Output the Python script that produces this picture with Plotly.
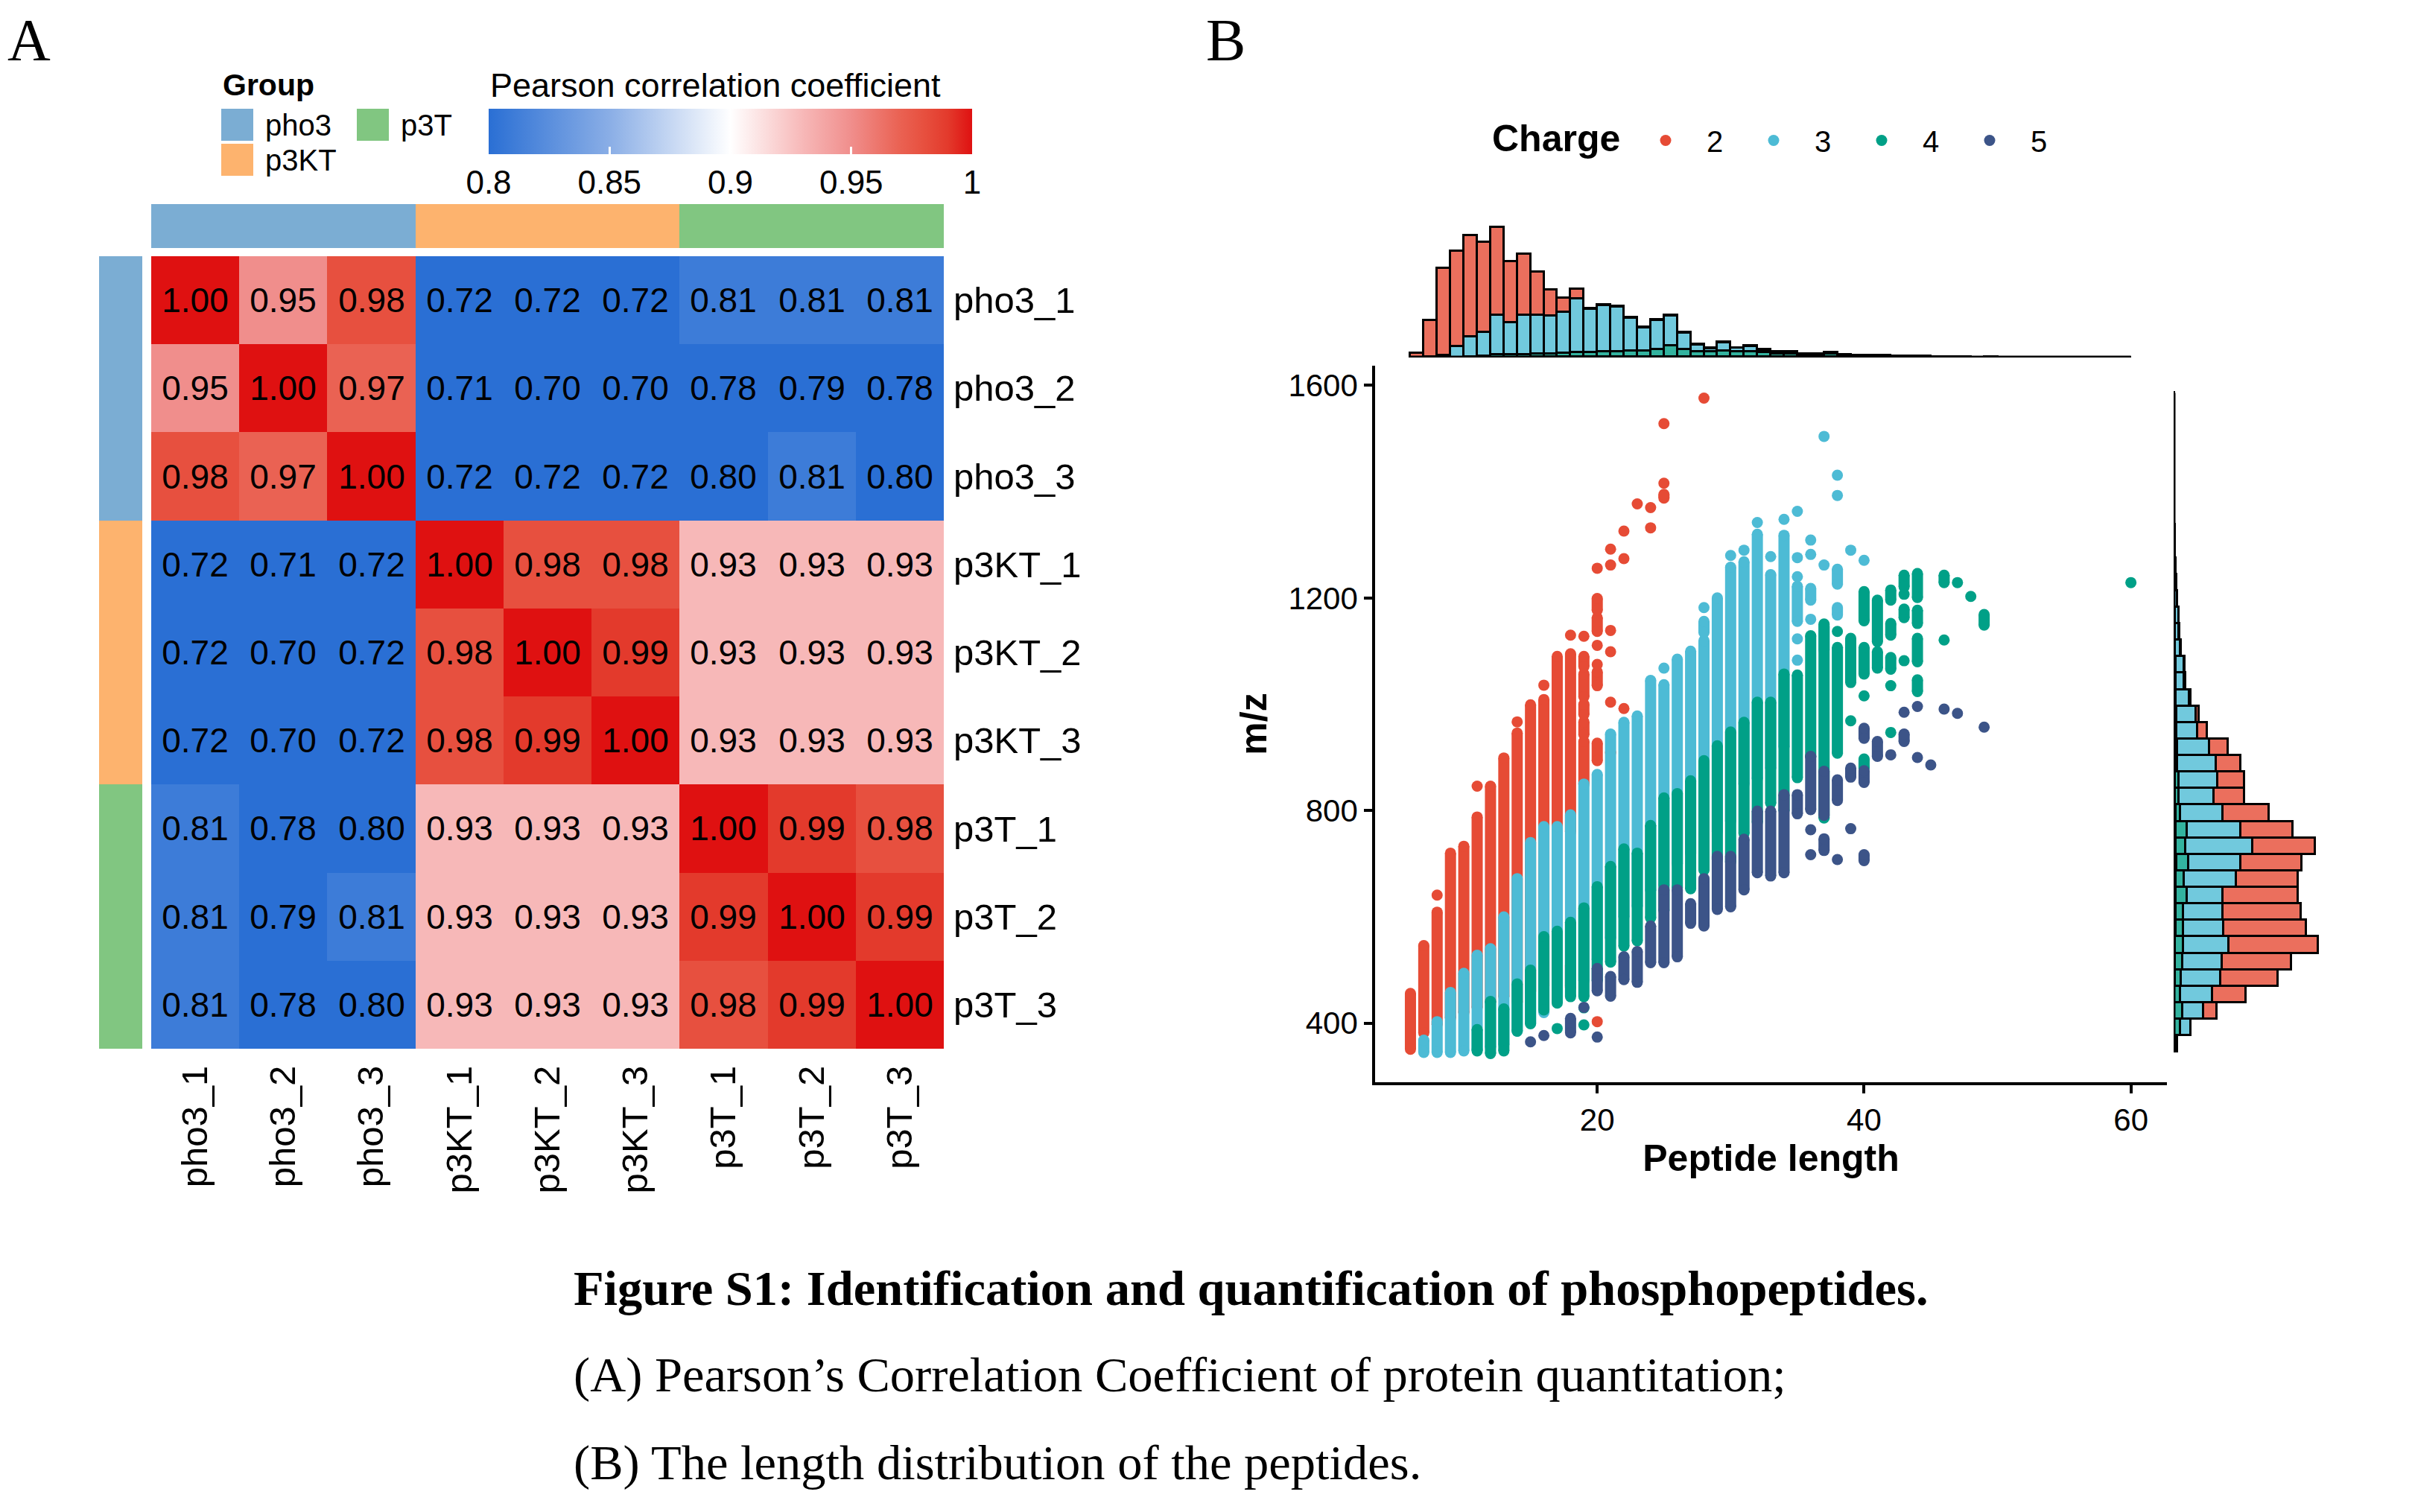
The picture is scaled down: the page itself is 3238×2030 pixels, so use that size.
import plotly.graph_objects as go

W, H = 3238, 2030
OX, OY = 6, 8   # small global nudge of the layout
SANS = 'Liberation Sans, Arial, Helvetica, sans-serif'
SERIF = 'Liberation Serif, Times New Roman, serif'


def px(x):
    return (x - OX) / W


def py(y):
    return 1 - (y - OY) / H


# ---------------- Panel A: Pearson correlation heatmap ----------------
samples = ['pho3_1', 'pho3_2', 'pho3_3', 'p3KT_1', 'p3KT_2', 'p3KT_3', 'p3T_1', 'p3T_2', 'p3T_3']
groups = ['pho3', 'pho3', 'pho3', 'p3KT', 'p3KT', 'p3KT', 'p3T', 'p3T', 'p3T']
group_names = ['pho3', 'p3KT', 'p3T']
group_colors = ['#7BADD3', '#FDB36E', '#81C681']
corr = [
    [1.00, 0.95, 0.98, 0.72, 0.72, 0.72, 0.81, 0.81, 0.81],
    [0.95, 1.00, 0.97, 0.71, 0.70, 0.70, 0.78, 0.79, 0.78],
    [0.98, 0.97, 1.00, 0.72, 0.72, 0.72, 0.80, 0.81, 0.80],
    [0.72, 0.71, 0.72, 1.00, 0.98, 0.98, 0.93, 0.93, 0.93],
    [0.72, 0.70, 0.72, 0.98, 1.00, 0.99, 0.93, 0.93, 0.93],
    [0.72, 0.70, 0.72, 0.98, 0.99, 1.00, 0.93, 0.93, 0.93],
    [0.81, 0.78, 0.80, 0.93, 0.93, 0.93, 1.00, 0.99, 0.98],
    [0.81, 0.79, 0.81, 0.93, 0.93, 0.93, 0.99, 1.00, 0.99],
    [0.81, 0.78, 0.80, 0.93, 0.93, 0.93, 0.98, 0.99, 1.00],
]
cbar_ticks = [0.8, 0.85, 0.9, 0.95, 1.0]
cbar_labels = ['0.8', '0.85', '0.9', '0.95', '1']

# ---------------- Panel B: peptide length vs m/z ----------------
charges = ['2', '3', '4', '5']
charge_colors = ['#E64B35', '#4DBBD5', '#00A087', '#3C5488']
hist_colors = ['#EB6F5D', '#71C9DD', '#33B39F', '#6376A0']

# (peptide length, lowest m/z, highest m/z) of each run of points
seg_charge2 = [
    (6, 351, 456), (7, 382, 546), (8, 398, 609), (8, 641, 641),
    (9, 410, 720), (10, 420, 733), (11, 430, 788), (11, 846, 846),
    (12, 440, 846), (13, 450, 899), (14, 440, 946), (14, 967, 967),
    (15, 460, 999), (16, 470, 1009), (16, 1036, 1036), (17, 490, 1090),
    (18, 467, 509), (18, 760, 1095), (18, 1130, 1130),
    (19, 850, 930), (19, 943, 967), (19, 981, 1000), (19, 1014, 1057), (19, 1071, 1090), (19, 1128, 1128),
    (20, 403, 403), (20, 894, 927), (20, 1035, 1061), (20, 1075, 1075), (20, 1111, 1111),
    (20, 1137, 1163), (20, 1177, 1199), (20, 1256, 1256),
    (21, 909, 909), (21, 1004, 1004), (21, 1099, 1099), (21, 1139, 1139), (21, 1262, 1262), (21, 1292, 1292),
    (22, 992, 992), (22, 1274, 1274), (22, 1326, 1326),
    (23, 1377, 1377), (24, 1332, 1332), (24, 1370, 1370),
    (25, 1388, 1395), (25, 1416, 1416), (25, 1528, 1528), (28, 1576, 1576),
]
seg_charge3 = [
    (7, 345, 368), (8, 345, 403), (9, 345, 458), (10, 348, 494), (11, 350, 528),
    (12, 355, 540), (13, 360, 600), (14, 385, 672), (15, 400, 740), (16, 420, 770),
    (17, 460, 770), (18, 470, 792), (19, 480, 850), (20, 520, 868), (21, 560, 944),
    (22, 600, 966), (23, 620, 978), (24, 650, 1045), (25, 660, 1037), (25, 1068, 1068),
    (26, 700, 1085), (27, 720, 1100), (28, 740, 1120), (28, 1135, 1156), (28, 1182, 1182),
    (29, 760, 1200), (30, 780, 1258), (30, 1280, 1280), (31, 850, 1268), (31, 1290, 1290),
    (32, 860, 1320), (32, 1342, 1342), (33, 880, 1244), (33, 1278, 1278),
    (34, 920, 1318), (34, 1348, 1348),
    (35, 1083, 1083), (35, 1123, 1123), (35, 1156, 1222), (35, 1240, 1240), (35, 1276, 1276), (35, 1363, 1363),
    (36, 1160, 1160), (36, 1196, 1218), (36, 1282, 1282), (36, 1309, 1309),
    (37, 1102, 1146), (37, 1262, 1262), (37, 1504, 1504),
    (38, 1168, 1182), (38, 1226, 1254), (38, 1393, 1393), (38, 1431, 1431),
    (39, 1290, 1290), (40, 1271, 1271),
]
seg_charge4 = [
    (11, 348, 388), (12, 343, 441), (13, 348, 427), (14, 385, 474), (15, 399, 500),
    (16, 425, 563), (17, 390, 390), (17, 438, 573), (18, 450, 590),
    (19, 397, 397), (19, 429, 429), (19, 450, 617), (20, 480, 657), (21, 515, 695),
    (22, 545, 728), (23, 555, 720), (24, 598, 772), (25, 612, 824), (26, 655, 832),
    (27, 653, 856), (28, 688, 894), (29, 708, 922), (30, 703, 948), (31, 757, 966),
    (32, 778, 1004), (33, 814, 1004), (34, 800, 1057), (35, 862, 1055),
    (36, 902, 1129), (37, 786, 1151), (38, 908, 1107), (38, 1137, 1137),
    (39, 969, 969), (39, 1041, 1124),
    (40, 880, 897), (40, 1016, 1016), (40, 1057, 1107), (40, 1157, 1212),
    (41, 1068, 1099), (41, 1118, 1196),
    (42, 947, 947), (42, 1035, 1035), (42, 1066, 1088), (42, 1130, 1152), (42, 1196, 1215),
    (43, 1082, 1082), (43, 1163, 1179), (43, 1207, 1207), (43, 1221, 1243),
    (44, 1024, 1046), (44, 1080, 1124), (44, 1152, 1177), (44, 1201, 1246),
    (46, 1121, 1121), (46, 1229, 1243), (47, 1229, 1229), (48, 1203, 1203),
    (49, 1149, 1169), (60, 1229, 1229),
]
seg_charge5 = [
    (15, 365, 365), (16, 377, 377), (18, 382, 409), (19, 430, 430),
    (20, 374, 374), (20, 461, 503), (21, 451, 488), (22, 482, 525), (23, 477, 535),
    (24, 514, 583), (25, 514, 651), (26, 525, 651), (27, 588, 625), (28, 583, 672),
    (29, 614, 714), (30, 619, 714), (31, 651, 746), (32, 683, 799), (33, 677, 799),
    (34, 683, 830), (35, 794, 830),
    (36, 717, 717), (36, 764, 764), (36, 802, 902),
    (37, 725, 747), (37, 791, 874), (38, 708, 708), (38, 819, 858),
    (39, 766, 766), (39, 863, 880), (40, 706, 717), (40, 853, 875), (40, 936, 955),
    (41, 902, 930), (42, 905, 905), (43, 930, 944), (43, 985, 985),
    (44, 900, 900), (44, 996, 996), (45, 886, 886), (46, 991, 991), (47, 983, 983),
    (49, 957, 957),
]

# marginal histogram of peptide length (bins [n, n+1), counts per charge)
len_bins = list(range(6, 60))
len_count2 = [18, 148, 353, 387, 410, 365, 355, 245, 247, 175, 107, 57, 40,
              3, 3, 3, 3, 3, 3, 3, 3, 3, 4, 2, 2, 2, 2, 1, 1] + [0] * 25
len_count3 = [0, 2, 10, 45, 83, 98, 161, 130, 160, 158, 152, 166, 218, 174, 187, 180,
              132, 92, 118, 121, 68, 25, 13, 35, 15, 21, 10, 6, 6, 4, 4, 6, 3, 2, 2,
              1, 1] + [0] * 17
len_count4 = [0, 0, 0, 0, 2, 5, 12, 12, 12, 13, 14, 15, 17, 18, 20, 22, 25, 25, 28,
              45, 28, 22, 20, 23, 20, 22, 18, 14, 14, 10, 10, 12, 8, 6, 6, 6, 5, 5, 5,
              2, 3, 1, 1, 2] + [0] * 9 + [1]
len_count5 = [0] * 7 + [1, 1, 2, 2, 2, 3, 3, 3, 3, 3, 3, 4, 4, 4, 3, 3, 3, 3, 3, 3,
                        2, 2, 2, 2, 2, 2, 2, 2, 1, 1, 1, 1, 1, 1, 1, 0, 1] + [0] * 10

# marginal histogram of m/z (bin centres, counts per charge)
mz_bins = [361.5, 392.5, 423.5, 454.5, 485.5, 516.5, 547.5, 578.5, 609.5, 640.5,
           671.5, 702.5, 733.5, 764.5, 795.5, 826.5, 857.5, 888.5, 919.5, 950.5,
           981.5, 1012.5, 1043.5, 1074.5, 1105.5, 1136.5, 1167.5, 1198.5, 1229.5, 1260.5,
           1291.5, 1322.5, 1353.5, 1384.5, 1415.5, 1446.5, 1477.5, 1508.5, 1539.5, 1570.5]
mz_count2 = [0, 0, 21, 50, 86, 104, 134, 123, 116, 112, 93, 91, 93, 78, 70, 46, 40, 37,
             28, 14, 5, 3, 2, 1, 1, 1, 0, 0, 0, 0, 0, 0, 0, 1, 1, 0, 0, 0, 1, 1]
mz_count3 = [4, 16, 31, 48, 59, 59, 67, 60, 59, 54, 77, 78, 100, 80, 63, 52, 58, 57,
             47, 32, 29, 20, 13, 13, 8, 6, 6, 5, 3, 3, 2, 2, 1, 0, 0, 0, 0, 1, 0, 0]
mz_count4 = [2, 9, 12, 9, 9, 11, 13, 12, 12, 17, 13, 18, 15, 17, 7, 6, 6, 4, 4, 3,
             3, 3, 3, 3, 2, 2, 2, 1, 2, 0, 0, 0, 0, 0, 0, 0, 0, 0, 0, 0]
mz_count5 = [0, 1, 1, 1, 2, 2, 2, 3, 3, 3, 3, 4, 3, 3, 3, 2, 2, 2, 2, 1,
             1, 0, 0, 0, 0, 0, 0, 0, 0, 0, 0, 0, 0, 0, 0, 0, 0, 0, 0, 0]

fig = go.Figure()

# --- heatmap body
corr_scale = [
    [0.0, '#2A6FD4'], [0.25, '#8AAEE6'], [0.5, '#FFFFFF'], [0.65, '#F7B8B8'],
    [0.75, '#F08E8C'], [0.85, '#EA6253'], [0.9, '#E7503F'], [0.95, '#E33A2C'],
    [1.0, '#DF1111'],
]
fig.add_trace(go.Heatmap(
    z=corr, x=samples, y=samples, xaxis='x', yaxis='y',
    zmin=0.8, zmax=1.0, colorscale=corr_scale,
    texttemplate='%{z:.2f}', textfont=dict(family=SANS, size=46, color='black'),
    hoverinfo='skip',
    colorbar=dict(
        orientation='h', thickness=61, thicknessmode='pixels',
        len=649, lenmode='pixels', x=px(978.5), xanchor='center',
        y=py(146), yanchor='top', xpad=0, ypad=0, outlinewidth=0,
        tickvals=cbar_ticks, ticktext=cbar_labels, ticks='inside',
        ticklen=10, tickwidth=3, tickcolor='white',
        tickfont=dict(family=SANS, size=44, color='black'),
    ),
))

# --- group annotation bars
group_idx = [group_names.index(g) for g in groups]
group_scale = [
    [0.0, group_colors[0]], [1 / 3, group_colors[0]],
    [1 / 3, group_colors[1]], [2 / 3, group_colors[1]],
    [2 / 3, group_colors[2]], [1.0, group_colors[2]],
]
fig.add_trace(go.Heatmap(z=[group_idx], x=samples, y=['Group'], xaxis='x', yaxis='y2',
                         zmin=0, zmax=2, colorscale=group_scale, showscale=False,
                         hoverinfo='skip'))
fig.add_trace(go.Heatmap(z=[[g] for g in group_idx], x=['Group'], y=samples,
                         xaxis='x2', yaxis='y', zmin=0, zmax=2, colorscale=group_scale,
                         showscale=False, hoverinfo='skip'))

# --- scatter: runs of points drawn as thick strokes, capped with round markers
segments = [seg_charge2, seg_charge3, seg_charge4, seg_charge5]
for name, col, segs in zip(charges, charge_colors, segments):
    lx, ly, mx, my = [], [], [], []
    for length, lo, hi in segs:
        if hi > lo:
            lx += [length, length, None]
            ly += [lo, hi, None]
            mx += [length, length]
            my += [lo, hi]
        else:
            mx.append(length)
            my.append(lo)
    fig.add_trace(go.Scatter(x=lx, y=ly, mode='lines', xaxis='x3', yaxis='y3',
                             line=dict(color=col, width=15), showlegend=False,
                             hoverinfo='skip'))
    fig.add_trace(go.Scatter(x=mx, y=my, mode='markers', xaxis='x3', yaxis='y3',
                             marker=dict(color=col, size=15, line=dict(width=0)),
                             name=name, legendgroup=name, hoverinfo='skip'))

# --- marginal histograms (stacked, charge 5 at the base)
len_counts = [len_count2, len_count3, len_count4, len_count5]
mz_counts = [mz_count2, mz_count3, mz_count4, mz_count5]
mz_width = mz_bins[1] - mz_bins[0]
for i in [3, 2, 1, 0]:
    fig.add_trace(go.Bar(x=[b + 0.5 for b in len_bins], y=len_counts[i], width=1,
                         xaxis='x4', yaxis='y4', showlegend=False, hoverinfo='skip',
                         marker=dict(color=hist_colors[i], line=dict(color='black', width=3))))
    fig.add_trace(go.Bar(y=mz_bins, x=mz_counts[i], width=mz_width, orientation='h',
                         xaxis='x5', yaxis='y5', showlegend=False, hoverinfo='skip',
                         marker=dict(color=hist_colors[i], line=dict(color='black', width=3))))

# base lines of the histograms (zero-count bins)
fig.add_trace(go.Scatter(x=[len_bins[0], len_bins[-1] + 1], y=[0, 0], mode='lines',
                         xaxis='x4', yaxis='y4', line=dict(color='black', width=5),
                         showlegend=False, hoverinfo='skip', cliponaxis=False))
fig.add_trace(go.Scatter(x=[0, 0], y=[mz_bins[0] - mz_width / 2, mz_bins[-1] + mz_width / 2],
                         mode='lines', xaxis='x5', yaxis='y5',
                         line=dict(color='black', width=5),
                         showlegend=False, hoverinfo='skip', cliponaxis=False))

top_total = max(a + b + c + d for a, b, c, d in zip(*len_counts))
right_total = max(a + b + c + d for a, b, c, d in zip(*mz_counts))

name_font = dict(family=SANS, size=49, color='black')
tick_font = dict(family=SANS, size=42, color='black')
x_range = [3.35, 62.7]
y_range = [289, 1637]

fig.update_layout(
    width=W, height=H, margin=dict(l=0, r=0, t=0, b=0),
    paper_bgcolor='white', plot_bgcolor='white',
    barmode='stack', bargap=0,
    font=dict(family=SANS, color='black'),
    xaxis=dict(domain=[px(201), px(1265)], anchor='y', tickangle=-90, tickfont=name_font,
               ticks='', ticklabelstandoff=12, showgrid=False, zeroline=False),
    yaxis=dict(domain=[py(1408), py(344)], anchor='x', autorange='reversed', side='right',
               tickfont=name_font, ticks='', ticklabelstandoff=12, showgrid=False,
               zeroline=False),
    yaxis2=dict(domain=[py(333), py(274)], anchor='x', visible=False),
    xaxis2=dict(domain=[px(131), px(189)], anchor='y', visible=False),
    xaxis3=dict(domain=[px(1844), px(2907)], anchor='y3', range=x_range,
                tickvals=[20, 40, 60], ticks='outside', ticklen=11, tickwidth=3.5,
                tickcolor='black', showline=True, linewidth=3.5, linecolor='black',
                showgrid=False, zeroline=False, tickfont=tick_font,
                title=dict(text='<b>Peptide length</b>', standoff=10,
                           font=dict(family=SANS, size=50, color='black'))),
    yaxis3=dict(domain=[py(1453), py(491)], anchor='x3', range=y_range,
                tickvals=[400, 800, 1200, 1600], ticks='outside', ticklen=11,
                tickwidth=3.5, tickcolor='black', showline=True, linewidth=3.5,
                linecolor='black', showgrid=False, zeroline=False, tickfont=tick_font,
                title=dict(text='<b>m/z</b>', standoff=14,
                           font=dict(family=SANS, size=50, color='black'))),
    xaxis4=dict(domain=[px(1844), px(2907)], anchor='y4', range=x_range, visible=False),
    yaxis4=dict(domain=[py(480), py(300)], anchor='x4', range=[0, top_total * 180 / 175],
                visible=False),
    xaxis5=dict(domain=[px(2916), px(3130)], anchor='y5',
                range=[0, right_total * 214 / 194], visible=False),
    yaxis5=dict(domain=[py(1453), py(491)], anchor='x5', range=y_range, visible=False),
    legend=dict(orientation='h', x=px(2179), xanchor='left', y=py(156), yanchor='top',
                font=dict(family=SANS, size=40, color='black'),
                itemwidth=100, entrywidth=30, entrywidthmode='pixels',
                bgcolor='rgba(0,0,0,0)'),
)

# group legend of panel A
shapes = []
swatch_pos = [(295, 146), (295, 193), (477, 146)]
for (sx, sy), col in zip(swatch_pos, group_colors):
    shapes.append(dict(type='rect', xref='paper', yref='paper',
                       x0=px(sx), x1=px(sx + 43), y0=py(sy + 43), y1=py(sy),
                       fillcolor=col, line=dict(width=0)))
fig.update_layout(shapes=shapes)

annotations = [
    dict(text='A', x=0, y=1, xanchor='left', yanchor='top',
         font=dict(family=SERIF, size=80)),
    dict(text='B', x=px(1615), y=1, xanchor='left', yanchor='top',
         font=dict(family=SERIF, size=80)),
    dict(text='<b>Group</b>', x=px(295), y=py(114), xanchor='left',
         font=dict(family=SANS, size=41)),
    dict(text='Pearson correlation coefficient', x=px(654), y=py(114), xanchor='left',
         font=dict(family=SANS, size=45)),
    dict(text='<b>Charge</b>', x=px(1999), y=py(186), xanchor='left',
         font=dict(family=SANS, size=50)),
]
for (sx, sy), g in zip(swatch_pos, group_names):
    annotations.append(dict(text=g, x=px(sx + 57), y=py(sy + 22), xanchor='left',
                            font=dict(family=SANS, size=40)))
caption = [
    ('<b>Figure S1: Identification and quantification of phosphopeptides.</b>', 1729),
    ('(A) Pearson’s Correlation Coefficient of protein quantitation;', 1846),
    ('(B) The length distribution of the peptides.', 1964),
]
for text, yy in caption:
    annotations.append(dict(text=text, x=px(766), y=py(yy), xanchor='left',
                            font=dict(family=SERIF, size=66.5)))
for a in annotations:
    a.setdefault('yanchor', 'middle')
    a.update(xref='paper', yref='paper', showarrow=False)
    a['font'].setdefault('color', 'black')
fig.update_layout(annotations=annotations)

fig.write_html('out.html')
